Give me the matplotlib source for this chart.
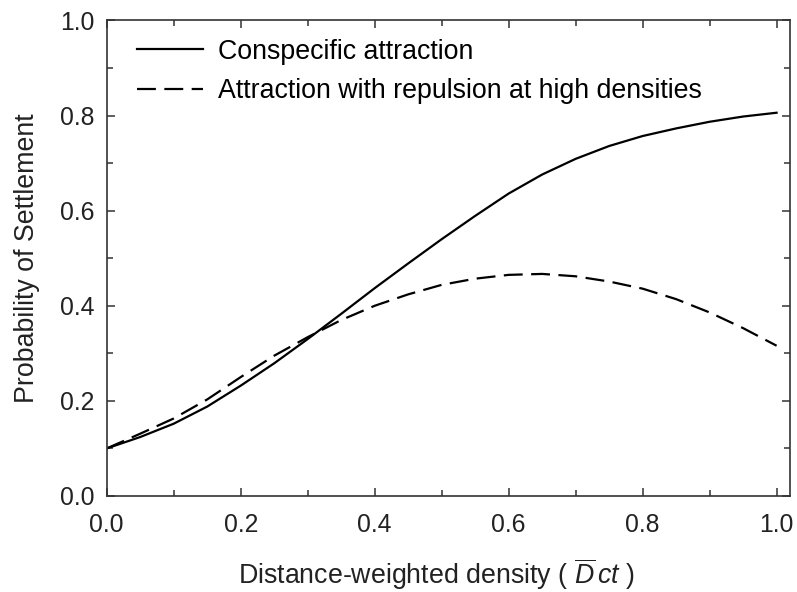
import matplotlib
matplotlib.use("Agg")
import matplotlib.pyplot as plt
from matplotlib.ticker import MultipleLocator

plt.rcParams["font.family"] = ["Liberation Sans", "DejaVu Sans"]
plt.rcParams["mathtext.fontset"] = "custom"
plt.rcParams["mathtext.rm"] = "Liberation Sans"
plt.rcParams["mathtext.it"] = "Liberation Sans:italic"

density = [0.00, 0.05, 0.10, 0.15, 0.20, 0.25, 0.30, 0.35, 0.40, 0.45, 0.50,
           0.55, 0.60, 0.65, 0.70, 0.75, 0.80, 0.85, 0.90, 0.95, 1.00]
attraction = [0.100, 0.124, 0.152, 0.188, 0.232, 0.279, 0.330, 0.383, 0.437, 0.489, 0.540,
              0.589, 0.636, 0.676, 0.709, 0.736, 0.757, 0.773, 0.787, 0.798, 0.806]
repulsion = [0.100, 0.131, 0.163, 0.203, 0.250, 0.295, 0.334, 0.370, 0.400, 0.424, 0.444,
             0.457, 0.465, 0.467, 0.462, 0.451, 0.436, 0.414, 0.386, 0.353, 0.316]
series_labels = ["Conspecific attraction", "Attraction with repulsion at high densities"]

TEXT = "#222222"
fig = plt.figure(figsize=(7.97, 5.92), dpi=100)
ax = fig.add_axes([0.1339, 0.1622, 0.8573, 0.8032])

ax.plot(density, attraction, color="black", lw=1.6, label=series_labels[0])
ax.plot(density, repulsion, color="black", lw=1.6, dashes=(8.5, 3.8), label=series_labels[1])

ax.set_xlim(0, 1.02)
ax.set_ylim(0, 1.0)
ax.xaxis.set_major_locator(MultipleLocator(0.2))
ax.xaxis.set_minor_locator(MultipleLocator(0.1))
ax.yaxis.set_major_locator(MultipleLocator(0.2))
ax.yaxis.set_minor_locator(MultipleLocator(0.1))
ax.xaxis.set_major_formatter(lambda v, p: f"{v:.1f}")
ax.yaxis.set_major_formatter(lambda v, p: f"{v:.1f}")
ax.tick_params(which="both", direction="in", top=True, right=True, width=1.1,
               labelsize=17.8, colors="#333333", labelcolor=TEXT)
ax.tick_params(which="major", length=5.5)
ax.tick_params(which="minor", length=4)
ax.tick_params(axis="x", which="major", pad=12.5)
ax.tick_params(axis="y", which="major", pad=9)
for s in ax.spines.values():
    s.set_linewidth(1.2)
    s.set_color("#333333")

ax.set_xlabel("Distance-weighted density ( $\\overline{D}\\,ct$ )", fontsize=19.3, color=TEXT)
ax.xaxis.set_label_coords(0.482, -0.126)
ax.set_ylabel("Probability of Settlement", fontsize=19.3, color=TEXT, labelpad=14)

ax.legend(loc="upper left", frameon=False, fontsize=19.3, handlelength=2.46,
          handletextpad=0.56, borderaxespad=0, borderpad=0.4, labelspacing=0.5,
          bbox_to_anchor=(0.028, 0.984))

fig.savefig("out.png", dpi=100)
